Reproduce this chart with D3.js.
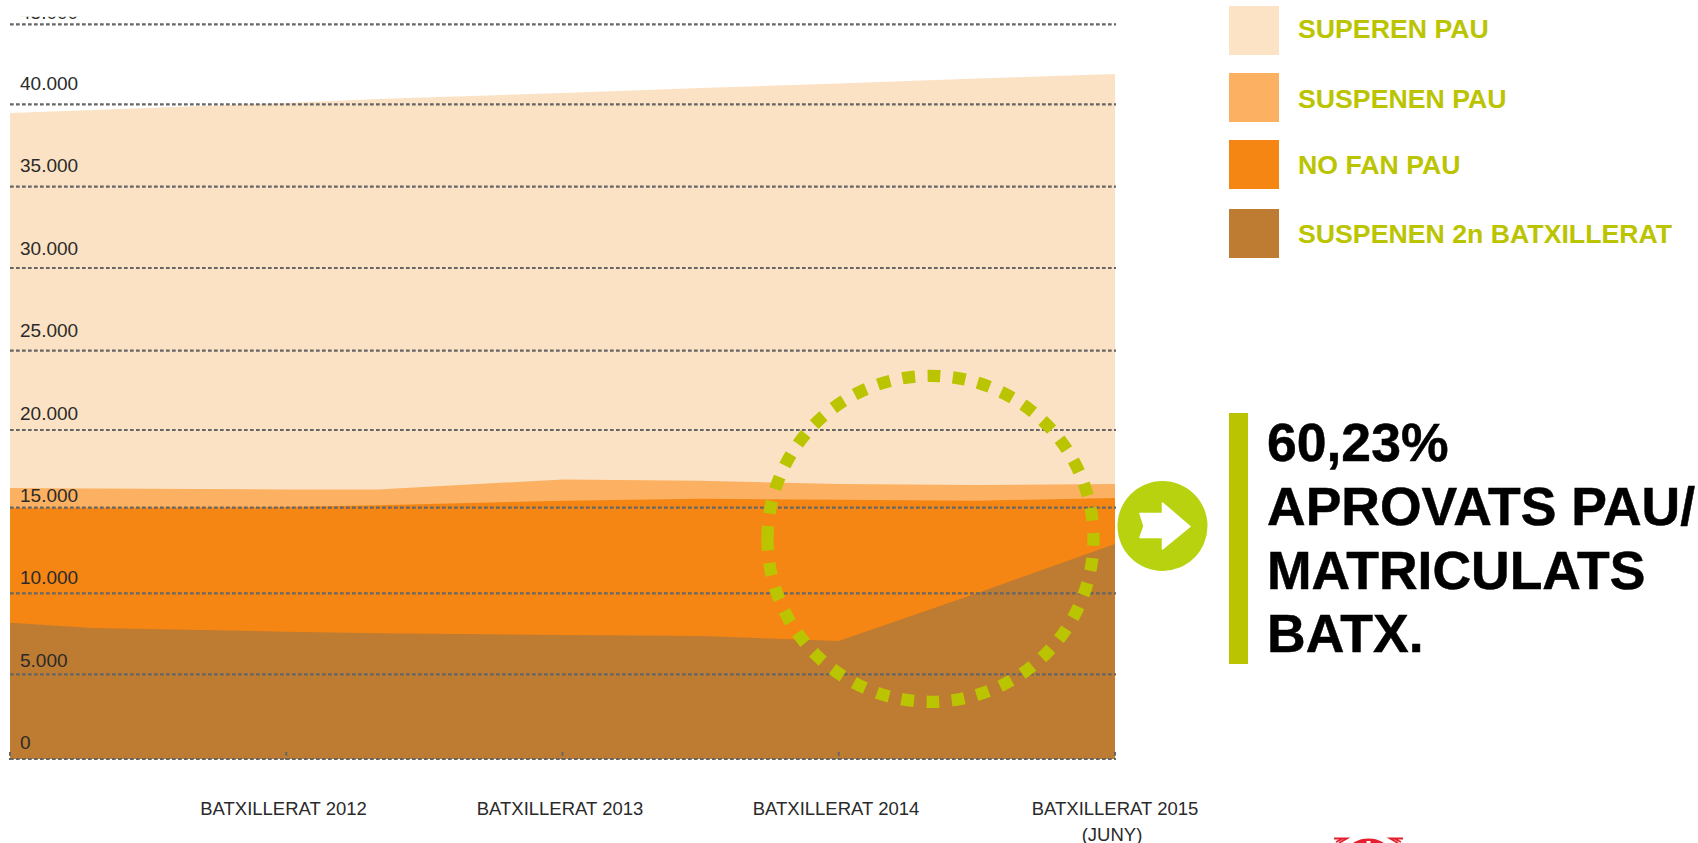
<!DOCTYPE html>
<html>
<head>
<meta charset="utf-8">
<script src="https://cdn.jsdelivr.net/npm/d3@7/dist/d3.min.js"></script>
<style>
html,body{margin:0;padding:0;background:#fff;overflow:hidden}
svg{display:block}
text{font-family:"Liberation Sans",Arial,sans-serif}
</style>
</head>
<body>
<svg id="chart" width="1698" height="843"></svg>
<script>
// ---- data ----
const knotYears = [2011, 2011.3, 2012, 2012.33, 2013, 2013.5, 2014, 2014.5, 2015];
const suspenen2n = [8185, 7858, 7630, 7540, 7426, 7364, 7056, 10000, 12880];
const noFanPau   = [6795, 7132, 7410, 7610, 8024, 8206, 8454, 5450, 2750];
const suspenenPau= [1288, 1245, 1131, 1021, 1365, 1167, 1015, 1011, 895];
const superenPau = [23204, 23419, 23910, 24159, 23891, 24282, 24775, 25151, 25369];
const seriesNames = ["SUSPENEN 2n BATXILLERAT", "NO FAN PAU", "SUSPENEN PAU", "SUPEREN PAU"];
const seriesColors = ["#BE7B32", "#F58613", "#FBB161", "#FCE2C4"];
const legendOrder = ["SUPEREN PAU", "SUSPENEN PAU", "NO FAN PAU", "SUSPENEN 2n BATXILLERAT"];
const legendColors = ["#FDE3C6", "#FBB161", "#F58613", "#BE7B32"];
const yTicks = [0, 5000, 10000, 15000, 20000, 25000, 30000, 35000, 40000, 45000];
const yTickLabels = ["0", "5.000", "10.000", "15.000", "20.000", "25.000", "30.000", "35.000", "40.000", "45.000"];
const tickYears = [2011, 2012, 2013, 2014, 2015];
const categoryYears = [2012, 2013, 2014, 2015];
const categoryLabels = [["BATXILLERAT 2012"], ["BATXILLERAT 2013"], ["BATXILLERAT 2014"], ["BATXILLERAT 2015", "(JUNY)"]];
const calloutLines = ["60,23%", "APROVATS PAU/", "MATRICULATS", "BATX."];

// ---- layout ----
const svg = d3.select("#chart");
const gridPixels = [759, 674.3, 593.3, 507.7, 430, 350.7, 268, 186.7, 104.3, 24.3];
const x = d3.scaleLinear().domain([2011, 2015]).range([10, 1115]);
const xLabel = d3.scaleLinear().domain(categoryYears).range([283.5, 560, 836, 1115]);
const y = d3.scaleLinear().domain(yTicks).range(gridPixels);
const yLabel = d3.scaleLinear().domain([0, 40000]).range([749, 90]);

const rows = knotYears.map((yr, i) => ({
  year: yr,
  [seriesNames[0]]: suspenen2n[i],
  [seriesNames[1]]: noFanPau[i],
  [seriesNames[2]]: suspenenPau[i],
  [seriesNames[3]]: superenPau[i]
}));
const stacked = d3.stack().keys(seriesNames)(rows);
// painted from the top band down, each reaching the baseline, so no seams show
const area = d3.area().x(d => x(d.data.year)).y0(y(0)).y1(d => y(d[1]));

svg.append("g").selectAll("path").data(stacked.map((s, i) => ({ s, i })).reverse()).join("path")
  .attr("d", d => area(d.s))
  .attr("fill", d => seriesColors[d.i]);

// gridlines
svg.append("g").selectAll("line").data(yTicks).join("line")
  .attr("x1", 10).attr("x2", 1116)
  .attr("y1", d => y(d)).attr("y2", d => y(d))
  .attr("stroke", "#666").attr("stroke-width", 2.2).attr("stroke-dasharray", "3.7 2.3");

// x ticks
svg.append("g").selectAll("line").data(tickYears).join("line")
  .attr("x1", d => x(d)).attr("x2", d => x(d))
  .attr("y1", 752).attr("y2", 760)
  .attr("stroke", "#666").attr("stroke-width", 2).attr("stroke-dasharray", "3.7 2.3");

// y labels (the topmost is cut by the picture's crop)
svg.append("clipPath").attr("id", "topcut").append("rect").attr("x", 0).attr("y", 16.8).attr("width", 200).attr("height", 800);
svg.append("g").attr("clip-path", "url(#topcut)").selectAll("text").data(yTicks).join("text")
  .attr("x", 20)
  .attr("y", d => d === 45000 ? 18.6 : yLabel(d))
  .attr("font-size", 19)
  .attr("fill", "#2a2a2a")
  .text((d, i) => yTickLabels[i]);

// category labels
const catG = svg.append("g").selectAll("text").data(categoryYears).join("text")
  .attr("text-anchor", "middle").attr("font-size", 18.5).attr("fill", "#2a2a2a");
catG.each(function (d, i) {
  d3.select(this).selectAll("tspan").data(categoryLabels[i]).join("tspan")
    .attr("x", (t, j) => xLabel(d) - j * 3).attr("y", (t, j) => 815 + j * 26).text(t => t);
});

// dotted highlight circle
svg.append("circle").attr("cx", 930.5).attr("cy", 538.8).attr("r", 163)
  .attr("fill", "none").attr("stroke", "#BBC400").attr("stroke-width", 12.3)
  .attr("stroke-dasharray", "12.8 12.5").attr("transform", "rotate(180 930.5 538.8)");

// arrow badge
svg.append("circle").attr("cx", 1162.5).attr("cy", 526).attr("r", 45).attr("fill", "#B8D20F");
svg.append("path").attr("fill", "#fff").attr("stroke", "#fff").attr("stroke-width", 1.5).attr("stroke-linejoin", "round")
  .attr("d", d3.line()([[1140,513.5],[1162.5,513.5],[1162.5,503],[1190,526.5],[1162.5,549],[1162.5,537.5],[1140,537.5],[1144,526]]) + "Z");

// legend
const legendSwatchY = [6, 73, 140, 209];
const legendBaseY = [38, 108, 174, 243];
const lg = svg.append("g").selectAll("g").data(legendOrder).join("g");
lg.append("rect").attr("x", 1229).attr("y", (d, i) => legendSwatchY[i]).attr("width", 50).attr("height", 49)
  .attr("fill", (d, i) => legendColors[i]);
lg.append("text").attr("x", 1298).attr("y", (d, i) => legendBaseY[i])
  .attr("font-size", 26.7).attr("font-weight", 700).attr("fill", "#BBC400").text(d => d);

// callout
svg.append("rect").attr("x", 1229).attr("y", 413).attr("width", 19).attr("height", 251).attr("fill", "#BBC400");
svg.append("g").selectAll("text").data(calloutLines).join("text")
  .attr("x", 1267).attr("y", (d, i) => 461 + i * 63.8)
  .attr("font-size", 53.5).attr("font-weight", 700).attr("fill", "#000").attr("stroke", "#000").attr("stroke-width", 0.5).text(d => d);

// top of the red emblem, cropped by the picture's bottom edge
const emblem = svg.append("g").attr("fill", "#E5202E");
emblem.append("ellipse").attr("cx", 1368.5).attr("cy", 850).attr("rx", 19).attr("ry", 11.5);
emblem.append("rect").attr("x", 1366.5).attr("y", 841).attr("width", 4).attr("height", 2).attr("fill", "#fff");
emblem.append("path").attr("fill", "none").attr("stroke", "#E5202E").attr("stroke-width", 1.8)
  .attr("d", "M1334,838.5 L1347,838.5 L1339,843 M1336,842 L1342,839 M1403,838.5 L1390,838.5 L1398,843 M1401,842 L1395,839");
</script>
</body>
</html>
